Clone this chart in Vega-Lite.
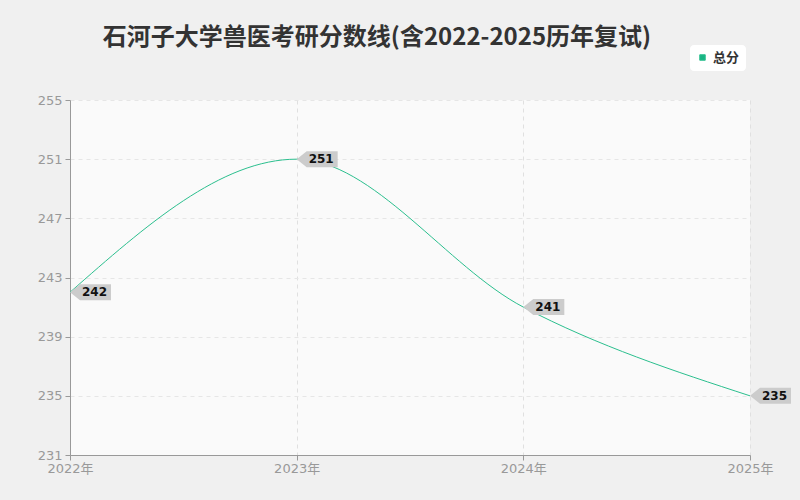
{
  "$schema": "https://vega.github.io/schema/vega-lite/v6.json",
  "width": 680,
  "height": 355,
  "autosize": {"type": "none"},
  "padding": {"left": 70, "top": 100, "right": 50, "bottom": 45},
  "background": "#f0f0f0",
  "title": {
    "text": "石河子大学兽医考研分数线(含2022-2025历年复试)",
    "font": "Noto Sans CJK SC",
    "fontSize": 24,
    "fontWeight": "bold",
    "color": "#333333",
    "anchor": "middle",
    "dx": -33,
    "offset": -5
  },
  "data": {
    "values": [
      {"year": 2022, "score": 242, "series": "总分"},
      {"year": 2023, "score": 251, "series": "总分"},
      {"year": 2024, "score": 241, "series": "总分"},
      {"year": 2025, "score": 235, "series": "总分"}
    ]
  },
  "encoding": {
    "x": {
      "field": "year",
      "type": "ordinal",
      "scale": {"type": "point", "padding": 0},
      "axis": {
        "title": null,
        "labelAngle": 0,
        "labelExpr": "datum.label + '年'",
        "grid": true,
        "gridDash": [4, 4],
        "gridColor": "#e0e0e0",
        "domainColor": "#999999",
        "tickColor": "#999999",
        "tickSize": 5,
        "labelColor": "#999999",
        "labelFontSize": 13,
        "labelFont": "DejaVu Sans, Noto Sans CJK SC",
        "labelPadding": 2
      }
    },
    "y": {
      "field": "score",
      "type": "quantitative",
      "scale": {"domain": [231, 255], "nice": false, "zero": false},
      "axis": {
        "title": null,
        "values": [231, 235, 239, 243, 247, 251, 255],
        "grid": true,
        "gridDash": [4, 4],
        "gridColor": "#e6e6e6",
        "domainColor": "#999999",
        "tickColor": "#999999",
        "tickSize": 5,
        "labelColor": "#999999",
        "labelFontSize": 13,
        "labelFont": "DejaVu Sans",
        "labelPadding": 3
      }
    }
  },
  "layer": [
    {
      "mark": {"type": "line", "interpolate": "monotone", "strokeWidth": 1, "clip": false},
      "encoding": {
        "color": {
          "field": "series",
          "type": "nominal",
          "scale": {"range": ["#2bbf8e"]},
          "legend": {
            "title": null,
            "orient": "none",
            "legendX": 620,
            "legendY": -55,
            "symbolType": "square",
            "symbolSize": 30,
            "symbolFillColor": "#19b383",
            "symbolStrokeColor": "#19b383",
            "symbolStrokeWidth": 1,
            "labelFont": "Noto Sans CJK SC",
            "labelFontSize": 13,
            "labelFontWeight": "bold",
            "labelColor": "#333333",
            "fillColor": "#ffffff",
            "cornerRadius": 4,
            "padding": 6
          }
        }
      }
    },
    {
      "mark": {
        "type": "point",
        "shape": "M0,0L0.5,-0.4L2.05,-0.4L2.05,0.4L0.5,0.4Z",
        "size": 1600,
        "filled": true,
        "color": "#cccccc",
        "opacity": 1,
        "clip": false
      }
    },
    {
      "mark": {
        "type": "text",
        "align": "left",
        "baseline": "middle",
        "dx": 12,
        "font": "DejaVu Sans",
        "fontSize": 12,
        "fontWeight": "bold",
        "color": "#111111",
        "clip": false
      },
      "encoding": {"text": {"field": "score", "type": "quantitative"}}
    }
  ],
  "config": {
    "view": {"fill": "#fafafa", "stroke": null}
  }
}
